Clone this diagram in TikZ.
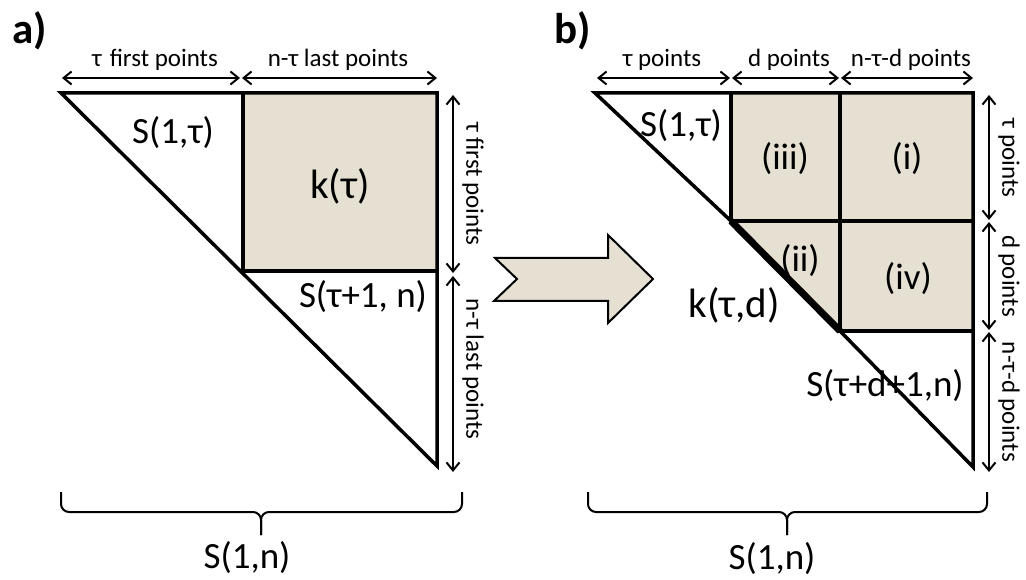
\documentclass[tikz,border=0pt]{standalone}
\usepackage{fontspec}
\setmainfont{Carlito}
\usetikzlibrary{arrows.meta}
\definecolor{boxfill}{RGB}{229,224,209}
\tikzset{
  edge/.style={line width=3.5pt, line join=miter},
  inner/.style={line width=3.2pt},
  dim/.style={line width=2pt, {Straight Barb[length=8pt,width=13pt]}-{Straight Barb[length=8pt,width=13pt]}},
  small/.style={font=\fontsize{25}{25}\selectfont, inner sep=0pt},
  big/.style={font=\fontsize{37}{37}\selectfont, inner sep=0pt},
  bigk/.style={font=\fontsize{41}{41}\selectfont, inner sep=0pt},
  panel/.style={font=\fontsize{43}{43}\selectfont\bfseries, inner sep=0pt},
  bracepath/.style={line width=2pt, rounded corners=8pt},
  blockarrow/.style={fill=boxfill, draw=black, line width=2pt, line join=miter}
}
\begin{document}
\begin{tikzpicture}[x=1pt,y=-1pt]
\path[use as bounding box] (0,0) rectangle (1026,580);

% ---------------- panel a ----------------
\coordinate (aTL) at (61,93);
\coordinate (aTM) at (243,93);
\coordinate (aTR) at (437,93);
\coordinate (aC)  at (243,271);
\coordinate (aR)  at (437,271);
\coordinate (aBR) at (437,466);

\fill[boxfill] (aTM) rectangle (aR);
\draw[edge] (aTL) -- (aTR) -- (aBR) -- cycle;
\draw[inner] (aTM) -- (aC) -- (aR);

\node[panel] (alab) at (30,31) {a)};

% top dimension arrows
\coordinate (aD0) at (62,78);
\coordinate (aD1) at (240,78);
\coordinate (aD2) at (242,78);
\coordinate (aD3) at (437,78);
\draw[dim] (aD0) -- (aD1);
\draw[dim] (aD2) -- (aD3);
\node[small] (at1) at (155,60) {τ\hspace{8pt}first points};
\node[small] (at2) at (338,60) {n-τ last points};

% right dimension arrows
\coordinate (aV0) at (453,95);
\coordinate (aV1) at (453,273);
\coordinate (aV2) at (453,276);
\coordinate (aV3) at (453,472);
\draw[dim] (aV0) -- (aV1);
\draw[dim] (aV2) -- (aV3);
\node[small, rotate=-90] (ar1) at (473,184) {τ first points};
\node[small, rotate=-90] (ar2) at (473,369) {n-τ last points};

\node[big]  (aS1) at (173,133) {S(1,τ)};
\node[bigk] (ak)  at (340,186) {k(τ)};
\node[big]  (aS2) at (363,297) {S(τ+1, n)};

% brace a
\coordinate (aB0) at (61,492);
\coordinate (aB1) at (462,492);
\coordinate (aBm) at (261,512);
\coordinate (aBt) at (261,535);
\draw[bracepath] (aB0) |- (aBm) -- (aBt);
\draw[bracepath] (aB1) |- (aBm) -- (aBt);
\node[big] (aSn) at (247,558) {S(1,n)};

% ---------------- block arrow ----------------
\draw[blockarrow] (495,258) -- (608,258) -- (608,235) -- (653,279) -- (608,323) -- (608,301) -- (494,301) -- (517,279) -- cycle;

% ---------------- panel b ----------------
\coordinate (bTL) at (595,93);
\coordinate (bT1) at (731,93);
\coordinate (bT2) at (840,93);
\coordinate (bTR) at (973,93);
\coordinate (bC1) at (731,221);
\coordinate (bM2) at (840,221);
\coordinate (bR1) at (973,221);
\coordinate (bC2) at (840,331);
\coordinate (bR2) at (973,331);
\coordinate (bBR) at (973,467);

\fill[boxfill] (bT1) rectangle (bR1);
\fill[boxfill] (bM2) rectangle (bR2);
\fill[boxfill] (bC1) -- (bM2) -- (bC2) -- cycle;
\draw[edge] (bTL) -- (bTR) -- (bBR) -- (bC2) -- (bC1) -- cycle;
\draw[inner] (bT1) -- (bC1) -- (bR1);
\draw[inner] (bT2) -- (bC2) -- (bR2);
\draw[line width=7pt] (bC1) -- (bC2);

\node[panel] (blab) at (573,31) {b)};

\coordinate (bD0) at (597,78);
\coordinate (bD1) at (730,78);
\coordinate (bD2) at (732,78);
\coordinate (bD3) at (839,78);
\coordinate (bD4) at (841,78);
\coordinate (bD5) at (973,78);
\draw[dim] (bD0) -- (bD1);
\draw[dim] (bD2) -- (bD3);
\draw[dim] (bD4) -- (bD5);
\node[small] (bt1) at (662,60) {τ points};
\node[small] (bt2) at (789,60) {d points};
\node[small] (bt3) at (911,60) {n-τ-d points};

\coordinate (bV0) at (989,95);
\coordinate (bV1) at (989,220);
\coordinate (bV2) at (989,222);
\coordinate (bV3) at (989,330);
\coordinate (bV4) at (989,332);
\coordinate (bV5) at (989,472);
\draw[dim] (bV0) -- (bV1);
\draw[dim] (bV2) -- (bV3);
\draw[dim] (bV4) -- (bV5);
\node[small, rotate=-90] (br1) at (1009,158) {τ points};
\node[small, rotate=-90] (br2) at (1009,276) {d points};
\node[small, rotate=-90] (br3) at (1009,402) {n-τ-d points};

\node[big] (bS1)  at (681,126) {S(1,τ)};
\node[big] (biii) at (785,159) {(iii)};
\node[big] (bi)   at (907,159) {(i)};
\node[big] (bii)  at (800,261) {(ii)};
\node[big] (biv)  at (908,279) {(iv)};
\node[bigk] (bk)  at (734,305) {k(τ,d)};
\node[big] (bS2)  at (885,386) {S(τ+d+1,n)};

\coordinate (bB0) at (588,492);
\coordinate (bB1) at (987,492);
\coordinate (bBm) at (787,512);
\coordinate (bBt) at (787,535);
\draw[bracepath] (bB0) |- (bBm) -- (bBt);
\draw[bracepath] (bB1) |- (bBm) -- (bBt);
\node[big] (bSn) at (772,559) {S(1,n)};
\end{tikzpicture}
\end{document}
